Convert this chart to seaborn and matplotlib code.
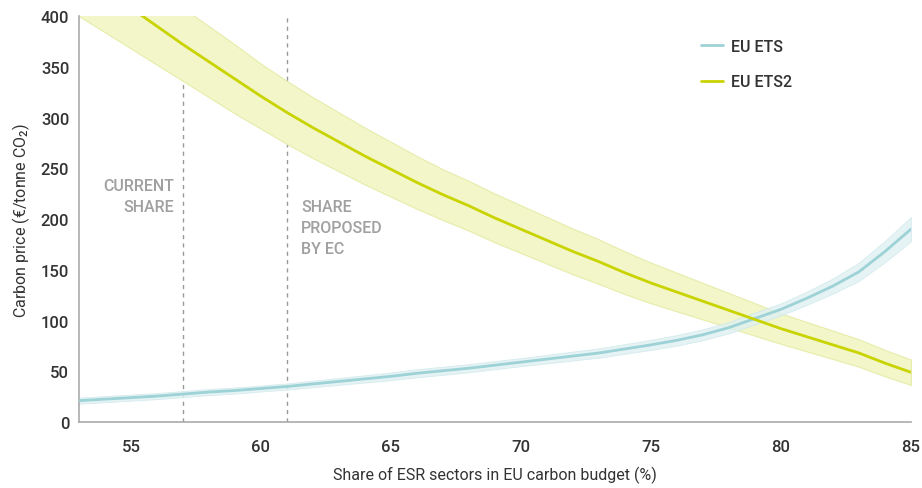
import matplotlib
matplotlib.use("Agg")
import matplotlib.pyplot as plt
import numpy as np
import pandas as pd
import seaborn as sns

# share of ESR sectors (%)
share = list(range(53, 86))

# EU ETS2 price (central) and half width of the band
ets2_mid = [445, 426, 408, 390, 372, 355, 338, 321, 305, 290, 276, 262, 249, 236, 224,
            213, 201, 190, 179, 168, 158, 147, 137, 128, 119, 110, 101, 92, 84, 76, 68, 58, 49]
ets2_half = [45, 42, 40, 38, 36, 35, 34, 32, 31, 30, 29, 28, 27, 26, 25,
             24.5, 24, 23.5, 23, 22.5, 22, 21, 20, 19, 18, 17, 16, 15, 14.5, 14, 13.5, 13, 12.5]

# EU ETS price (central) and half width of the band
ets_mid = [21, 22.5, 24, 25.5, 27.5, 29.5, 31, 33, 35, 37.5, 40, 42.5, 45, 48, 50.5,
           53, 56, 59, 62, 65, 68, 72, 76, 80.5, 86, 93, 102, 111, 122, 134, 148, 168, 190]
ets_half = [3, 3, 3, 3, 3, 3, 3, 3, 3, 3.2, 3.4, 3.6, 3.8, 4, 4,
            4, 4, 4, 4.2, 4.4, 4.6, 4.8, 5, 5.2, 5.4, 5.6, 5.8, 6, 6.5, 7.5, 9, 10.5, 12]

current_share = 57
proposed_share = 61

df = pd.concat([
    pd.DataFrame({"share": share, "price": ets_mid, "series": "EU ETS"}),
    pd.DataFrame({"share": share, "price": ets2_mid, "series": "EU ETS2"}),
])

c_ets = "#9dd2d7"
c_ets2 = "#c9d300"

sns.set_style("white")
plt.rcParams["font.family"] = ["Roboto", "DejaVu Sans"]
plt.rcParams["font.weight"] = "medium"
plt.rcParams["mathtext.fontset"] = "custom"
plt.rcParams["mathtext.rm"] = "Roboto:medium"
plt.rcParams["mathtext.it"] = "Roboto:italic"

fig = plt.figure(figsize=(9.22, 4.89), dpi=100)
ax = fig.add_axes([0.0857, 0.135, 0.9023, 0.830])

# bands
lo = np.array(ets2_mid) - np.array(ets2_half)
hi = np.array(ets2_mid) + np.array(ets2_half)
ax.fill_between(share, lo, hi, color="#f2f6c9", edgecolor="#e6edaa", linewidth=0.8, zorder=1)
lo = np.array(ets_mid) - np.array(ets_half)
hi = np.array(ets_mid) + np.array(ets_half)
ax.fill_between(share, lo, hi, color="#dff0f2", edgecolor="#cfe8eb", linewidth=0.6, alpha=0.8, zorder=2)

sns.lineplot(data=df, x="share", y="price", hue="series",
             palette={"EU ETS": c_ets, "EU ETS2": c_ets2},
             linewidth=2, errorbar=None, ax=ax, zorder=3)

# reference shares
for s in [current_share, proposed_share]:
    ax.axvline(s, color="#999999", linestyle=(0, (3, 3)), linewidth=1, zorder=0)

ax.text(current_share - 0.35, 240, "CURRENT\nSHARE", ha="right", va="top",
        color="#a0a0a0", fontsize=11.5, linespacing=1.5)
ax.text(proposed_share + 0.55, 220, "SHARE\nPROPOSED\nBY EC", ha="left", va="top",
        color="#a0a0a0", fontsize=11.5, linespacing=1.5)

ax.set_xlim(53, 85)
ax.set_ylim(0, 400)
ax.set_xticks([55, 60, 65, 70, 75, 80, 85])
ax.set_yticks(range(0, 401, 50))
ax.set_xlabel("Share of ESR sectors in EU carbon budget (%)", fontsize=11.5,
              color="#333333", labelpad=9)
ax.set_ylabel("Carbon price (€/tonne CO$_2$)", fontsize=11.5, color="#333333", labelpad=6)

for side in ["top", "right"]:
    ax.spines[side].set_visible(False)
for side in ["left", "bottom"]:
    ax.spines[side].set_color("#aaaaaa")
    ax.spines[side].set_linewidth(1.2)
ax.tick_params(axis="both", colors="#aaaaaa", labelcolor="#333333", labelsize=12,
               length=5, width=1.2, direction="out")
ax.tick_params(axis="x", pad=7)
ax.tick_params(axis="y", pad=2)

leg = ax.legend(loc="upper left", bbox_to_anchor=(0.73, 0.98), frameon=False,
                fontsize=11.5, handlelength=1.4, handletextpad=0.5, labelspacing=1.3,
                title=None)
for t in leg.get_texts():
    t.set_color("#333333")

fig.savefig("out.png", dpi=100)
